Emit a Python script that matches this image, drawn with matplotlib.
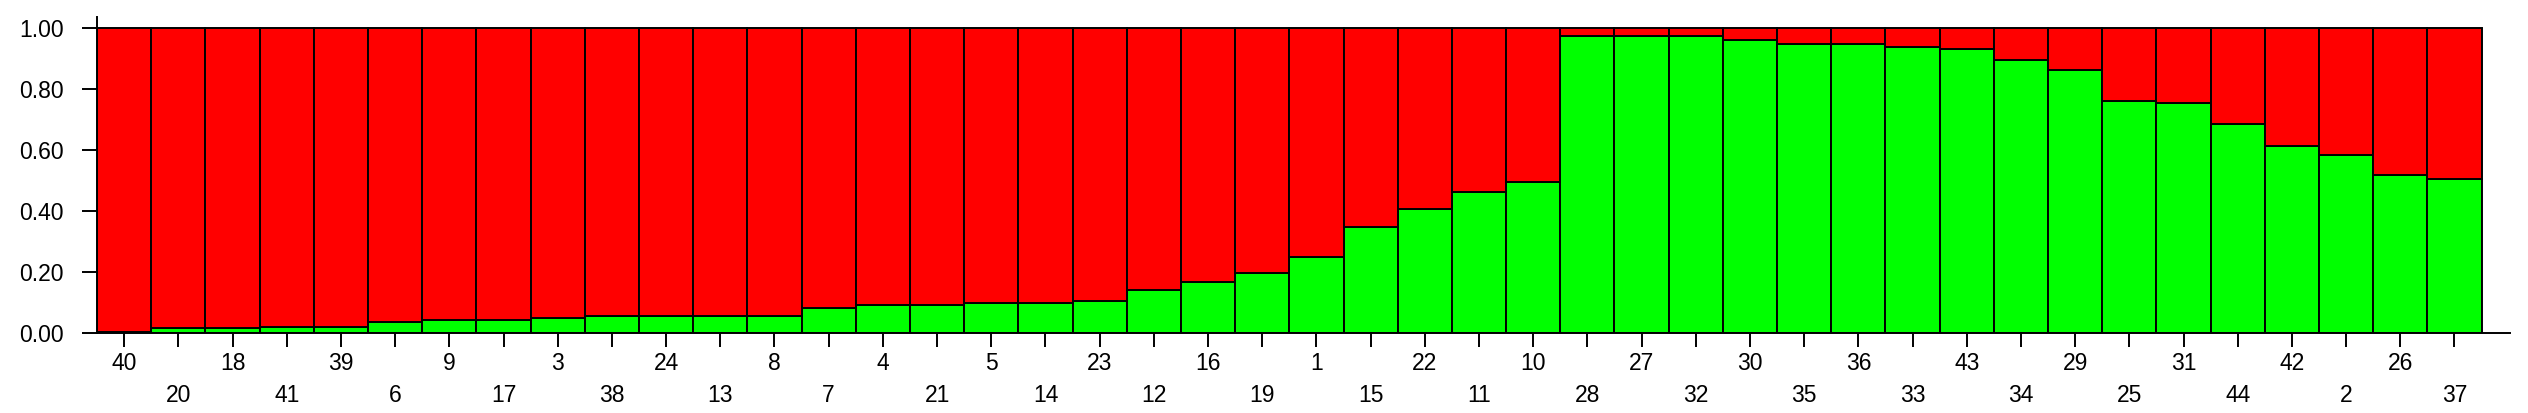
import numpy as np
import matplotlib
matplotlib.use("Agg")
from matplotlib import pyplot as plt

# individuos na ordem do grafico
labels = ['40', '20', '18', '41', '39', '6', '9', '17', '3', '38', '24', '13', '8', '7',
          '4', '21', '5', '14', '23', '12', '16', '19', '1', '15', '22', '11', '10', '28',
          '27', '32', '30', '35', '36', '33', '43', '34', '29', '25', '31', '44', '42', '2',
          '26', '37']

# proporcao do cluster verde (o vermelho e o resto ate 1)
green = [0.003, 0.014, 0.014, 0.020, 0.020, 0.034, 0.042, 0.042, 0.047, 0.055, 0.055, 0.055,
         0.055, 0.082, 0.091, 0.091, 0.099, 0.099, 0.104, 0.140, 0.168, 0.197, 0.248, 0.348,
         0.405, 0.463, 0.494, 0.976, 0.976, 0.976, 0.962, 0.948, 0.948, 0.940, 0.932, 0.896,
         0.863, 0.762, 0.756, 0.684, 0.613, 0.584, 0.518, 0.505]

green = np.array(green)
red = 1 - green
x = np.arange(len(labels))

plt.rcParams['font.family'] = ['Liberation Sans', 'DejaVu Sans']

fig = plt.figure(figsize=(25.28, 4.13), dpi=100)
ax = fig.add_axes([0.0384, 0.1944, 0.9546, 0.7644])

ax.bar(x, green, width=1.0, color='#00ff00', edgecolor='black', linewidth=1.4)
ax.bar(x, red, bottom=green, width=1.0, color='#ff0000', edgecolor='black', linewidth=1.4)

ax.set_xlim(-0.5, 44.03)
ax.set_ylim(0, 1.037)

ax.spines['top'].set_visible(False)
ax.spines['right'].set_visible(False)
ax.spines['left'].set_linewidth(1.4)
ax.spines['bottom'].set_linewidth(1.4)

ax.set_yticks([0, 0.2, 0.4, 0.6, 0.8, 1.0])
ax.set_yticklabels(['0.00', '0.20', '0.40', '0.60', '0.80', '1.00'])
ax.tick_params(axis='y', length=11, width=1.4, pad=13, labelsize=16.5)

# rotulos alternando em duas linhas
ax.set_xticks(x[::2])
ax.set_xticklabels(labels[::2])
ax.set_xticks(x[1::2], minor=True)
ax.set_xticklabels(labels[1::2], minor=True)
ax.tick_params(axis='x', which='major', length=10, width=1.4, pad=4, labelsize=16.5)
ax.tick_params(axis='x', which='minor', length=10, width=1.4, pad=27, labelsize=16.5)

fig.savefig('out.png', dpi=100)
